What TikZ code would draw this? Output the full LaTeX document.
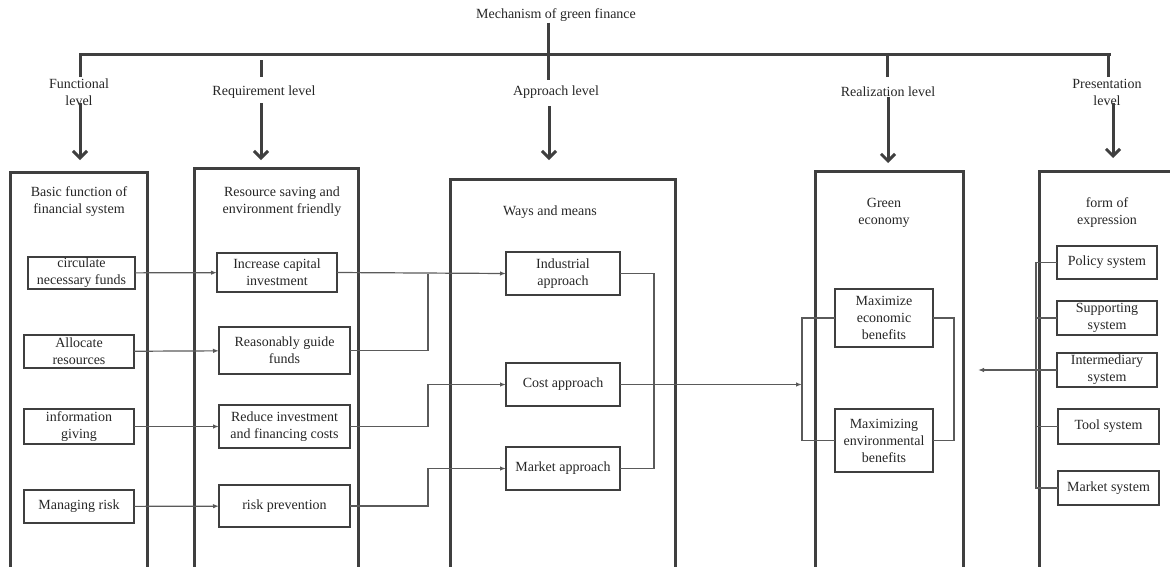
\documentclass[tikz,border=0pt]{standalone}
\usepackage{fontspec}
\setmainfont{Liberation Serif}
\usetikzlibrary{positioning,arrows.meta,calc}
\definecolor{linegray}{HTML}{3F3F3F}
\definecolor{thingray}{HTML}{5A5A5A}
\definecolor{textgray}{HTML}{262626}
\tikzset{
    every node/.style = {
        font=\fontsize{14}{17}\selectfont,
        text=textgray,
        align=center,
        inner sep=1pt
    },
    column/.style = {
        draw=linegray,
        shape=rectangle,
        anchor=north west,
        outer sep=0pt,
        line width=3pt
    },
    block/.style = {
        draw=linegray,
        shape=rectangle,
        outer sep=0pt,
        inner sep=0pt,
        line width=2pt
    },
    level/.style = {
        draw=linegray,
        line width=3pt
    },
    levelarrow/.style = {
        level,
        -{Straight Barb[length=7pt,width=14pt]}
    },
    link/.style = {
        draw=thingray,
        line width=1.2pt
    },
    >={Latex[length=6pt,width=4.5pt]},
}

\begin{document}
\begin{tikzpicture}[x=1pt,y=-1pt]
    \useasboundingbox (0,0) rectangle (1170,566);
    \clip (0,0) rectangle (1170,566);

    \node (title) at (556,15) {Mechanism of green finance};

    \node (funclvl) at (79,92) {Functional\\level};
    \node (reqlvl) at (264,92) {Requirement level};
    \node (applvl) at (556,92) {Approach level};
    \node (reallvl) at (888,92) {Realization level};
    \node (preslvl) at (1107,92) {Presentation\\level};

    \node[column, minimum width=137, minimum height=410] (basic) at (10,172) {};
    \node[column, minimum width=164, minimum height=415] (resource) at (194,168) {};
    \node[column, minimum width=225, minimum height=405] (ways) at (450,179) {};
    \node[column, minimum width=148, minimum height=410] (green) at (815,171) {};
    \node[column, minimum width=160, minimum height=410] (expr) at (1039,171) {};

    \node (basictitle) at (79,202) {Basic function of\\financial system};
    \node (restitle) at (282,202) {Resource saving and\\environment friendly};
    \node (waystitle) at (550,212) {Ways and means};
    \node (greentitle) at (884,213) {Green\\economy};
    \node (exprtitle) at (1107,213) {form of\\expression};

    \coordinate (funcdrop) at (80,77);
    \coordinate (realdrop) at (887,77);
    \coordinate (presdrop) at (1108,77);
    \coordinate (barend) at (1111,54);
    \coordinate (apptop) at (548,80);
    \coordinate (reqstubA) at (261,60);
    \coordinate (reqstubB) at (261,77);

    \path[level] (funcdrop) |- (barend);
    \path[level] (realdrop) -- (realdrop |- barend);
    \path[level] (presdrop) -- (presdrop |- barend);
    \path[level] (title.south -| apptop) -- (apptop);
    \path[level] (reqstubA) -- (reqstubB);

    \coordinate (funcarr) at (80,103);
    \coordinate (reqarr) at (261,103);
    \coordinate (apparr) at (549,106);
    \coordinate (realarr) at (888,97);
    \coordinate (presarr) at (1113,103);

    \path[levelarrow, shorten >=12pt] (funcarr) -- (funcarr |- basic.north);
    \path[levelarrow, shorten >=8pt] (reqarr) -- (reqarr |- resource.north);
    \path[levelarrow, shorten >=19pt] (apparr) -- (apparr |- ways.north);
    \path[levelarrow, shorten >=8pt] (realarr) -- (realarr |- green.north);
    \path[levelarrow, shorten >=13pt] (presarr) -- (presarr |- expr.north);

    \node[block, minimum width=107, minimum height=32] (circ) at (81.5,273) {circulate\\necessary funds};
    \node[block, minimum width=110, minimum height=33] (alloc) at (79,351.5) {Allocate\\resources};
    \node[block, minimum width=110, minimum height=35] (info) at (79,426.5) {information\\giving};
    \node[block, minimum width=110, minimum height=33] (manage) at (79,506.5) {Managing risk};

    \node[block, minimum width=120, minimum height=39] (incr) at (277,272.5) {Increase capital\\investment};
    \node[block, minimum width=131, minimum height=47] (guide) at (284.5,350.5) {Reasonably guide\\funds};
    \node[block, minimum width=131, minimum height=43] (reduce) at (284.5,426.5) {Reduce investment\\and financing costs};
    \node[block, minimum width=131, minimum height=42] (riskp) at (284.5,506) {risk prevention};

    \node[block, minimum width=114, minimum height=43] (indus) at (563,273.5) {Industrial\\approach};
    \node[block, minimum width=114, minimum height=43] (cost) at (563,384.5) {Cost approach};
    \node[block, minimum width=114, minimum height=43] (market) at (563,468.5) {Market approach};

    \node[block, minimum width=98, minimum height=58] (maxeco) at (884,318) {Maximize\\economic\\benefits};
    \node[block, minimum width=98, minimum height=63] (maxenv) at (884,440.5) {Maximizing\\environmental\\benefits};

    \node[block, minimum width=100, minimum height=33] (policy) at (1107,262.5) {Policy system};
    \node[block, minimum width=100, minimum height=34] (support) at (1107,318) {Supporting\\system};
    \node[block, minimum width=100, minimum height=34] (midsys) at (1107,370) {Intermediary\\system};
    \node[block, minimum width=101, minimum height=35] (tool) at (1108.5,426.5) {Tool system};
    \node[block, minimum width=101, minimum height=34] (marksys) at (1108.5,488) {Market system};

    \path[link, ->] (circ) -- (incr);
    \path[link, ->] (alloc) -- (guide);
    \path[link, ->] (info) -- (reduce);
    \path[link, ->] (manage) -- (riskp);

    \coordinate (joinA) at (428,0);
    \coordinate (joinB) at (654,0);
    \coordinate (joinC) at (802,0);
    \coordinate (joinD) at (954,0);
    \coordinate (bus) at (1036,0);
    \coordinate (presin) at (978,370);

    \path[link, ->] (incr.east) -- (indus.west);
    \path[link] (guide.east) -| (joinA |- indus.west);
    \path[link, ->] (reduce.east) -| (joinA |- cost.west) -- (cost.west);
    \path[link, ->] (riskp.east) -| (joinA |- market.west) -- (market.west);

    \path[link] (indus.east) -| (joinB |- market.east) -- (market.east);
    \path[link, ->] (cost.east) -- (cost.east -| joinC);

    \path[link] (maxeco.west) -- (joinC |- maxeco.west) |- (maxenv.west);
    \path[link] (maxeco.east) -- (joinD |- maxeco.east) |- (maxenv.east);

    \path[link] (policy.west) -- (policy.west -| bus) -- (marksys.west -| bus) -- (marksys.west);
    \foreach \sys in {support,midsys,tool}
        \path[link] (\sys.west) -- (\sys.west -| bus);
    \path[link, ->] (midsys.west -| bus) -- (presin);
\end{tikzpicture}
\end{document}
